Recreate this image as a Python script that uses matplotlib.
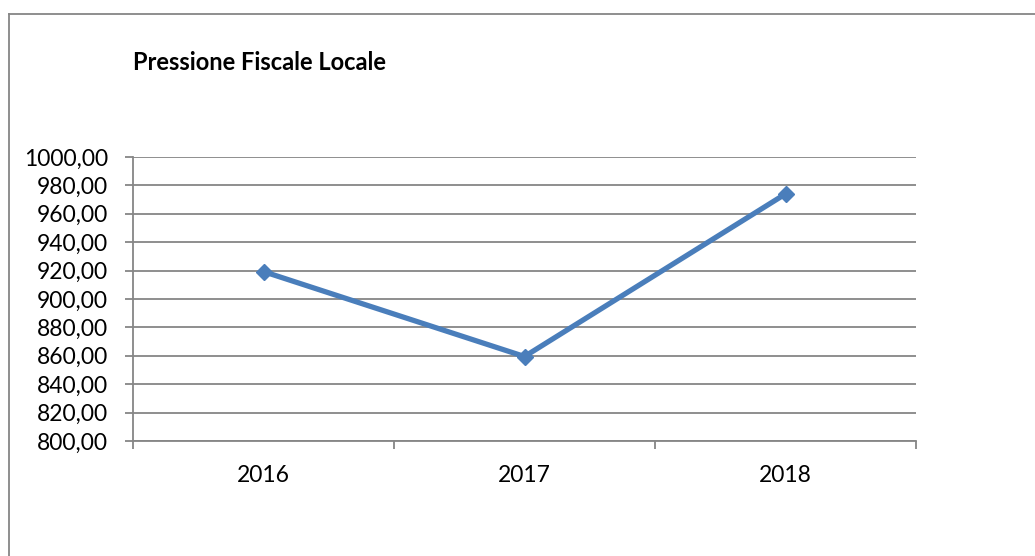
import matplotlib
matplotlib.use('Agg')
import matplotlib.pyplot as plt
from matplotlib.ticker import FuncFormatter, FixedLocator
from matplotlib.lines import Line2D

plt.rcParams['font.family'] = ['Lato', 'DejaVu Sans']

anni = ['2016', '2017', '2018']
pressione = [919.3, 859.5, 974.0]

grigio = '#868686'
blu = '#4A7EBB'

fig = plt.figure(figsize=(10.35, 5.56), dpi=100)
ax = fig.add_axes([133 / 1035, 1 - 441 / 556, (916 - 133) / 1035, (441 - 157) / 556])

x = list(range(len(anni)))
ax.plot(x, pressione, color=blu, linewidth=3.8, marker='D', markersize=8,
        markerfacecolor=blu, markeredgecolor=blu, solid_joinstyle='miter')

ax.set_xlim(-0.5, len(anni) - 0.5)
ax.set_ylim(800, 1000)
ax.set_yticks(range(800, 1001, 20))
ax.yaxis.set_major_formatter(FuncFormatter(lambda v, p: f'{v:.2f}'.replace('.', ',')))
ax.grid(axis='y', color=grigio, linewidth=1.3)
ax.set_axisbelow(True)

# categorie al centro, tacche ai bordi delle categorie
ax.set_xticks(x)
ax.set_xticklabels(anni)
ax.xaxis.set_minor_locator(FixedLocator([i - 0.5 for i in range(len(anni) + 1)]))
ax.tick_params(axis='x', which='major', length=0, pad=17, labelsize=16.5)
ax.tick_params(axis='x', which='minor', length=6, width=1.3, color=grigio, direction='out')
ax.tick_params(axis='y', length=6, width=1.3, color=grigio, pad=12, labelsize=16.5)

for lato in ['top', 'right']:
    ax.spines[lato].set_visible(False)
for lato in ['left', 'bottom']:
    ax.spines[lato].set_color(grigio)
    ax.spines[lato].set_linewidth(1.3)

fig.text(133 / 1035, 1 - 62 / 556, 'Pressione Fiscale Locale', fontsize=17,
         fontweight='bold', ha='left', va='center')

# cornice del grafico (solo lati superiore e sinistro)
fig.add_artist(Line2D([8.5 / 1035, 1], [1 - 13.5 / 556, 1 - 13.5 / 556],
                      transform=fig.transFigure, color=grigio, linewidth=1.3))
fig.add_artist(Line2D([8.5 / 1035, 8.5 / 1035], [0, 1 - 13.5 / 556],
                      transform=fig.transFigure, color=grigio, linewidth=1.3))

fig.savefig('out.png', dpi=100)
